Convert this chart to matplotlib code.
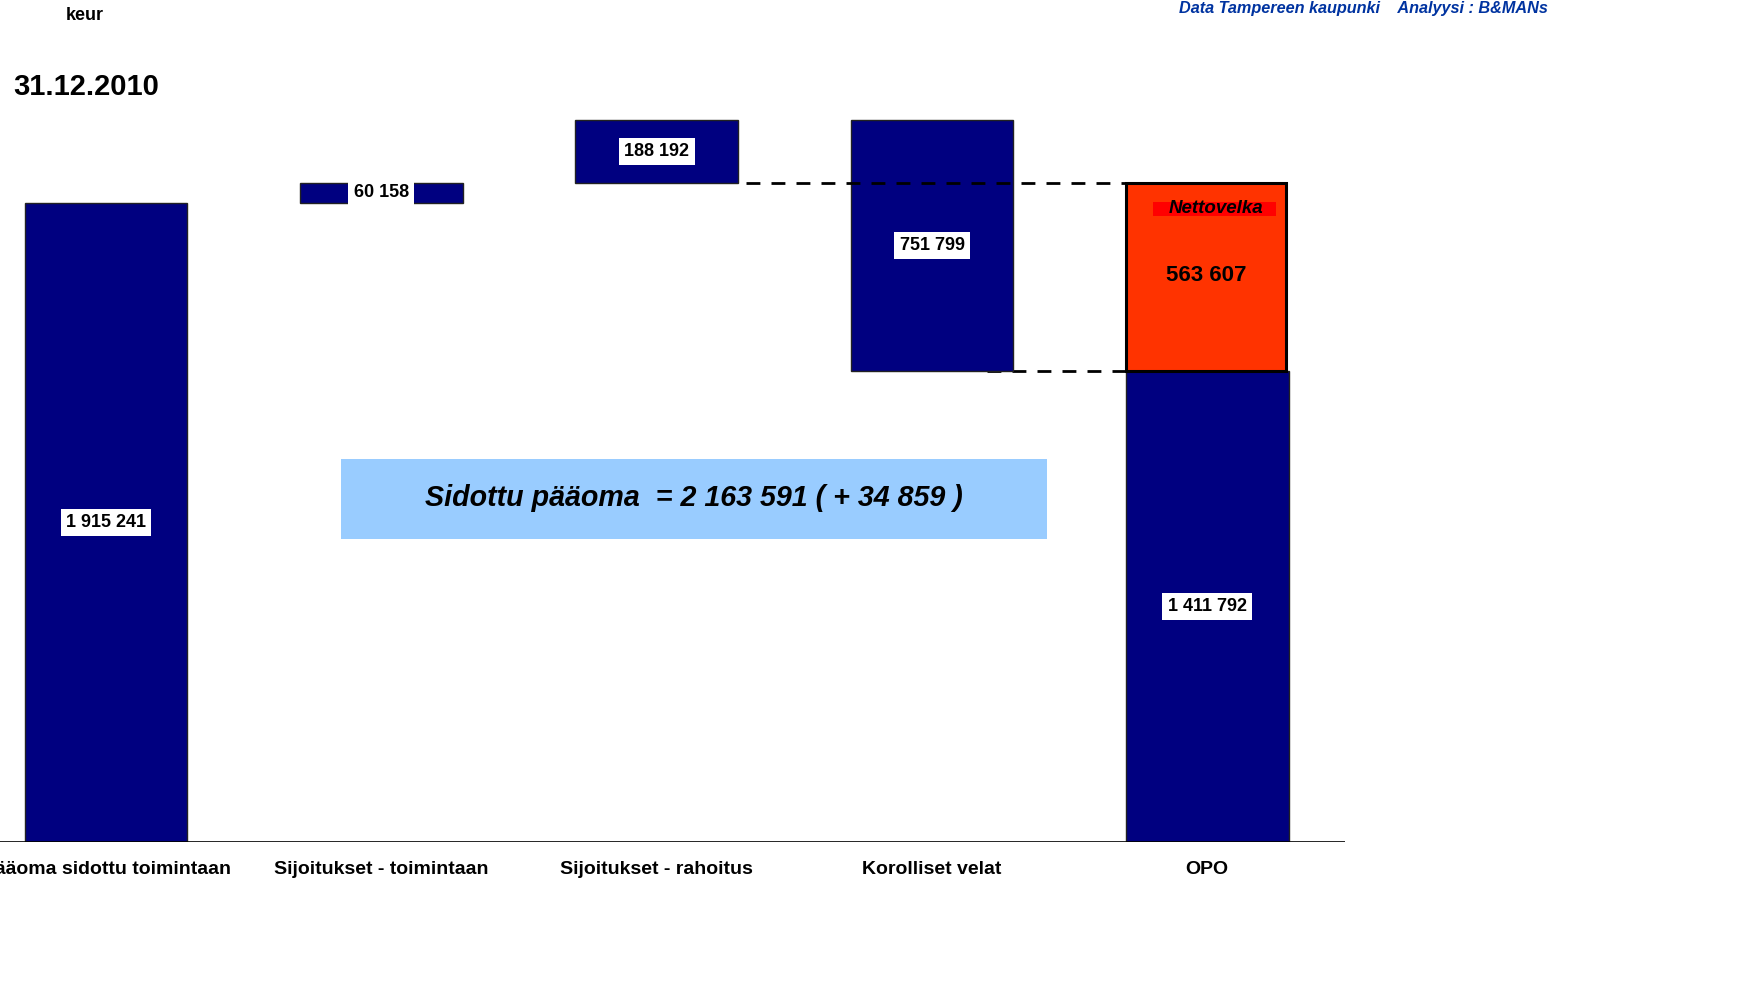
import matplotlib
matplotlib.use("Agg")
import matplotlib.pyplot as plt
import matplotlib.patches as mpatches
import numpy as np

plt.rcParams['font.family'] = ['Liberation Sans', 'DejaVu Sans']

# ---- data ----
categories = ["Pääoma sidottu toimintaan", "Sijoitukset - toimintaan",
              "Sijoitukset - rahoitus", "Korolliset velat", "OPO"]
operating_capital = 1915241
invest_operating = 60158
invest_financing = 188192
interest_debt = 751799
opo_value = 1411792
net_debt = 563607
value_labels = ["1 915 241", "60 158", "188 192", "751 799", "1 411 792"]
net_debt_label = "563 607"
box_text = "Sidottu pääoma  = 2 163 591 ( + 34 859 )"

NAVY = "#000080"
ORANGE = "#FF3300"

W, H = 1745, 981
fig = plt.figure(figsize=(W / 100, H / 100), dpi=100)
base_px = 842
ax = fig.add_axes([0, (H - base_px) / H, 1345 / W, base_px / H])
scale = operating_capital / (842 - 203)  # units per pixel
ax.set_ylim(0, base_px * scale)
ax.set_xlim(-0.385, 4.5)
ax.axis('off')
ax.axhline(0, color='black', lw=1.2, zorder=5)

x = np.arange(len(categories))
bw = 0.59

# waterfall geometry
s1 = operating_capital
s2 = s1 + invest_operating
s3 = s2 + invest_financing
s4 = s3 - interest_debt
heights = [operating_capital, invest_operating, invest_financing, interest_debt, opo_value]
bottoms = [0, s1, s2, s4, 0]

ax.bar(x, heights, bottom=bottoms, width=bw, color=NAVY, edgecolor='#222222', lw=1.0, zorder=3)
# net debt on top of OPO
ax.bar(x[4] - 0.005, net_debt, bottom=opo_value, width=bw - 0.01, color=ORANGE,
       edgecolor='black', lw=2.2, zorder=4)

# dashed connectors
ax.hlines(s2, x[2] + bw / 2 + 0.03, x[4] + 0.05, colors='black', lw=2.0,
          linestyles=(0, (5, 4)), zorder=4.5)
ax.hlines(opo_value, x[3] + 0.2, x[4] - bw / 2, colors='black', lw=2.0,
          linestyles=(0, (5, 4)), zorder=2)

# value labels
lab_kw = dict(ha='center', va='center', fontsize=13, fontweight='bold', zorder=6)
box = dict(boxstyle='square,pad=0.3', facecolor='white', edgecolor='none')
for i in range(5):
    yc = bottoms[i] + heights[i] / 2
    ax.text(x[i], yc, value_labels[i], bbox=box, **lab_kw)

# red highlight behind "Nettovelka"
ax.add_patch(mpatches.Rectangle((1153 / W, 1 - 216 / H), 123 / W, 14 / H,
             transform=fig.transFigure, facecolor='#FF0000', edgecolor='none',
             zorder=5.5, clip_on=False))
ax.text(x[4] + 0.03, opo_value + net_debt * 0.866, "Nettovelka", ha='center', va='center',
        fontsize=13.5, fontweight='bold', style='italic', zorder=6)
ax.text(x[4] - 0.005, opo_value + net_debt * 0.51, net_debt_label, ha='center', va='center',
        fontsize=16, fontweight='bold', zorder=6)

# category labels
for i, c in enumerate(categories):
    fig.text((106 + 275.3 * i) / W, 1 - 870 / H, c, ha='center', va='center',
             fontsize=14, fontweight='bold')

# blue box
ax.add_patch(mpatches.Rectangle((341 / W, 1 - 539 / H), 706 / W, 80 / H,
             transform=fig.transFigure, facecolor='#99CCFF', edgecolor='none',
             zorder=1, clip_on=False))
fig.text(694 / W, 1 - 498 / H, box_text, ha='center', va='center', fontsize=20.6,
         fontweight='bold', style='italic')

# header texts
fig.text(85 / W, 1 - 16 / H, "keur", ha='center', va='center', fontsize=13, fontweight='bold')
fig.text(13 / W, 1 - 87 / H, "31.12.2010", ha='left', va='center', fontsize=21, fontweight='bold')
fig.text(1548 / W, 1 - 8 / H, "Data Tampereen kaupunki    Analyysi : B&MANs", ha='right',
         va='center', fontsize=11.7, fontweight='bold', style='italic', color='#0033A0')

fig.savefig("out.png", dpi=100)
